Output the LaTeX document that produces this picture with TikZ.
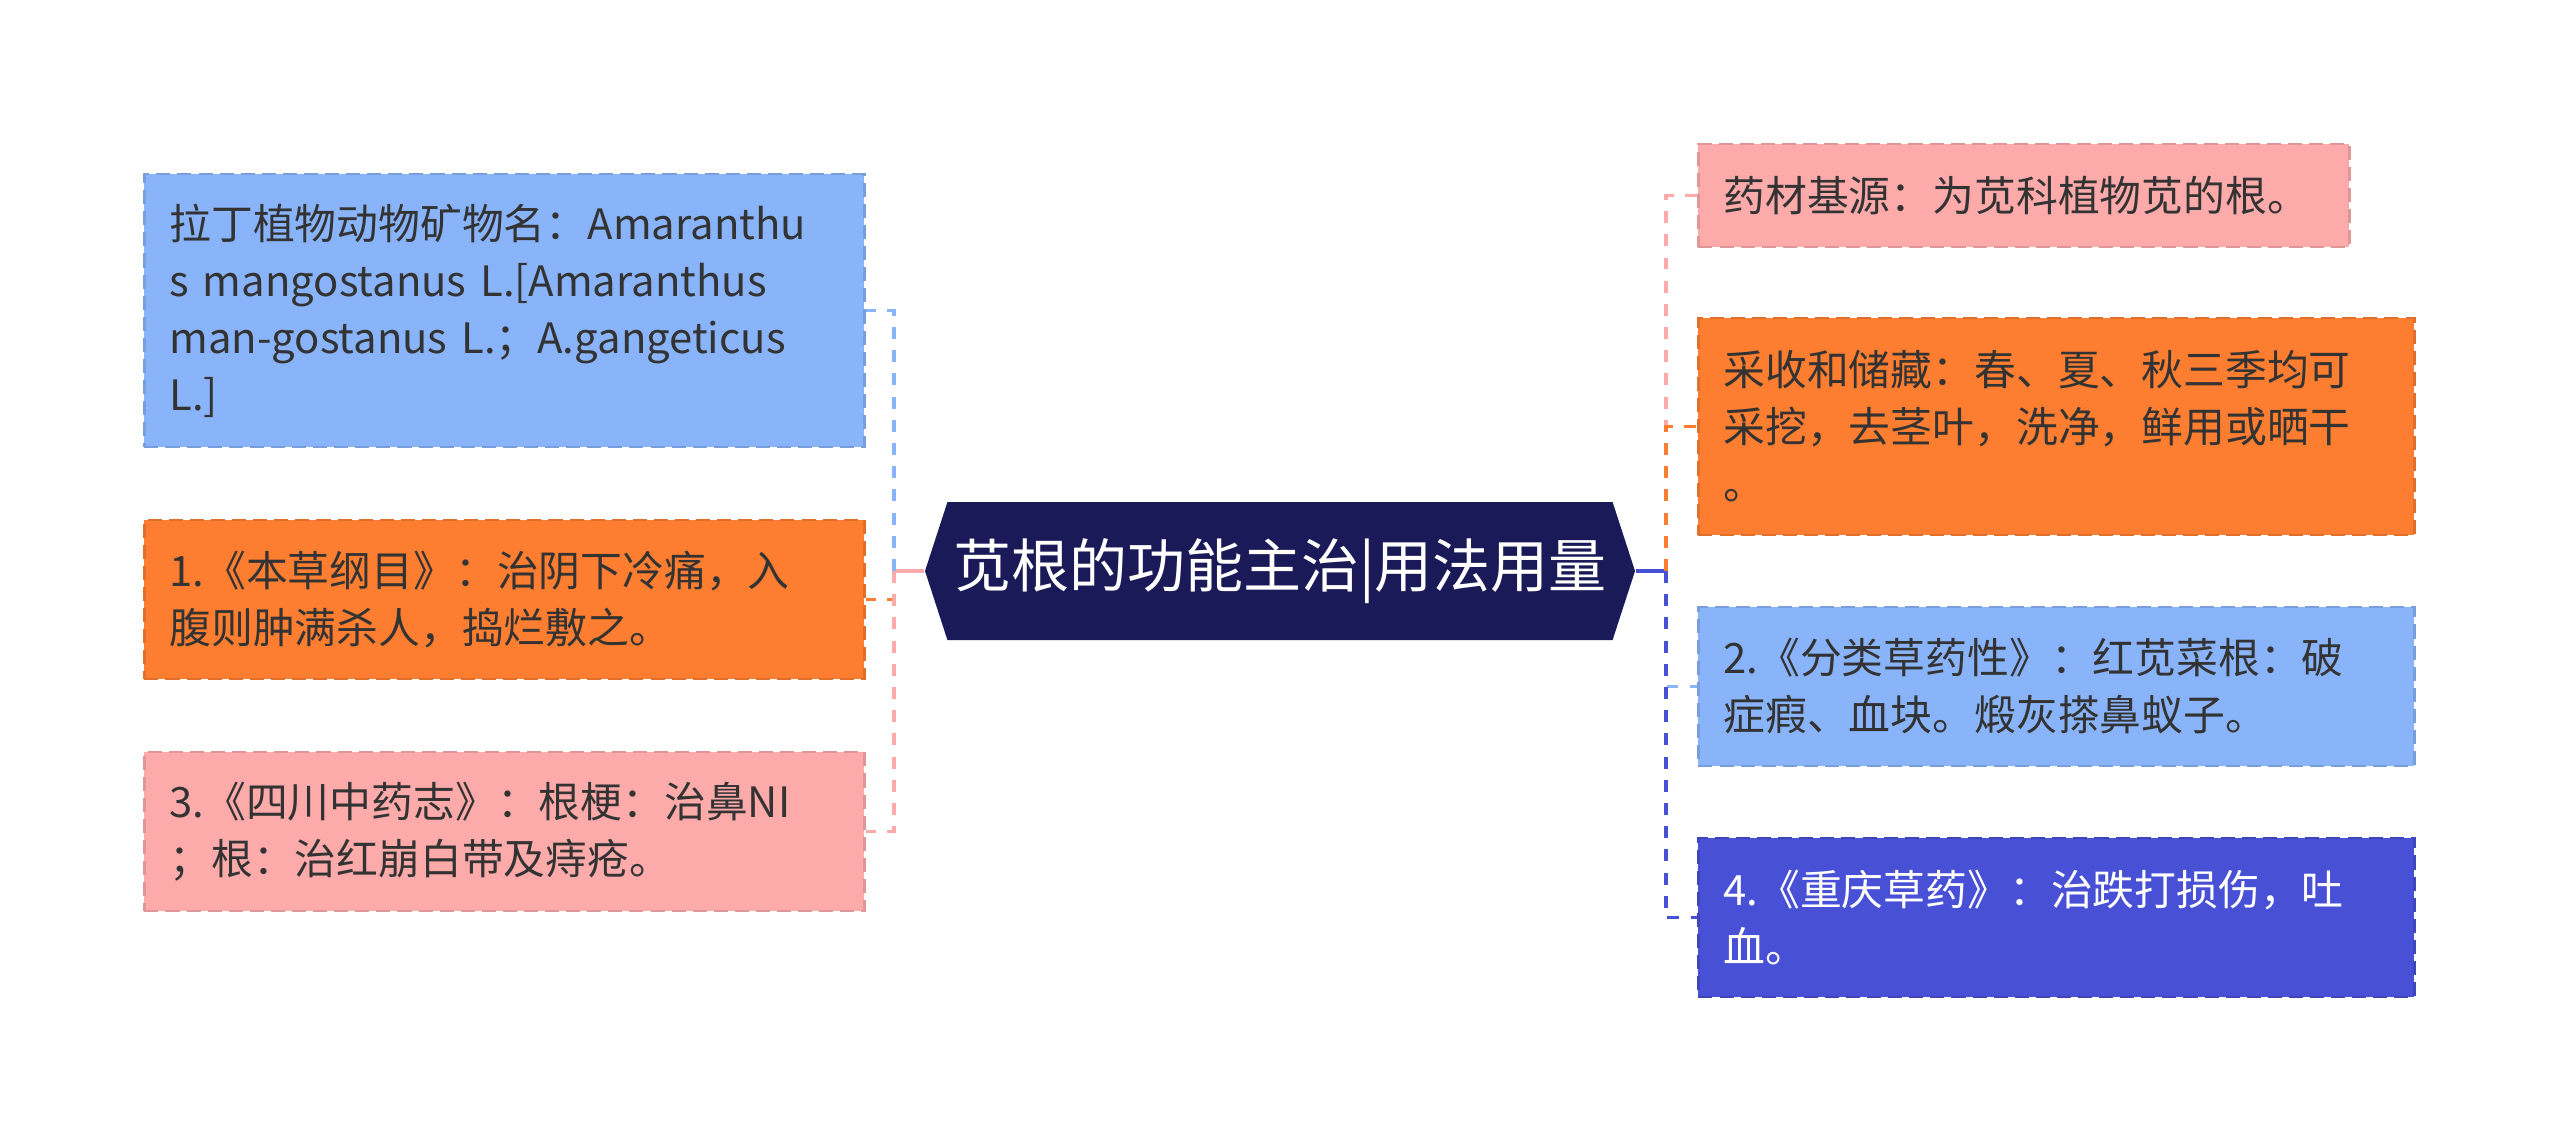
\documentclass[tikz,border=0pt]{standalone}
\usepackage{fontspec}
\newfontfamily\cjk{Noto Sans CJK SC}
\usetikzlibrary{shapes.symbols}
\definecolor{lblue}{HTML}{8AB4FA}
\definecolor{orng}{HTML}{FD7E30}
\definecolor{pnk}{HTML}{FCAAAA}
\definecolor{vblue}{HTML}{4850D5}
\definecolor{navy}{HTML}{1B1A58}
\definecolor{txt}{HTML}{333333}

\begin{document}
\begin{tikzpicture}[
  leaf/.style={rectangle,draw=#1!88!black,fill=#1,dash pattern=on 4pt off 2pt,line width=0.8pt,anchor=west,align=left,inner xsep=0.25cm,inner ysep=0cm,text width=6.7cm,text=txt,font=\cjk\fontsize{11.9pt}{16.2pt}\selectfont},
  link/.style={draw=#1,line width=1pt,dash pattern=on 3.4pt off 3.2pt},
  trunk/.style={draw=#1,line width=1.1pt}]
\useasboundingbox (0,0) rectangle (25.6,-11.42);

\node[signal,signal to=west and east,signal pointer angle=144,fill=navy,text=white,minimum width=7.1cm,minimum height=1.38cm,inner sep=0pt,font=\cjk\fontsize{16.5pt}{20pt}\selectfont] (root) at (12.8,-5.71) {苋根的功能主治|用法用量};

 \node[leaf=lblue,minimum height=2.73cm] (latin) at (1.43,-3.105) {拉丁植物动物矿物名：Amaranthu\\s mangostanus L.[Amaranthus\\man-gostanus L.；A.gangeticus\\L.]};
  \node[leaf=orng,minimum height=1.59cm] (bencao) at (1.43,-5.995) {1.《本草纲目》：治阴下冷痛，入\\腹则肿满杀人，捣烂敷之。};
    \node[leaf=pnk,minimum height=1.59cm] (sichuan) at (1.43,-8.315) {3.《四川中药志》：根梗：治鼻NI\\；根：治红崩白带及痔疮。};

 \node[leaf=pnk,minimum height=1.03cm,text width=6.01cm] (source) at (16.97,-1.955) {药材基源：为苋科植物苋的根。};
  \node[leaf=orng,minimum height=2.17cm,text width=6.66cm] (harvest) at (16.97,-4.265) {采收和储藏：春、夏、秋三季均可\\采挖，去茎叶，洗净，鲜用或晒干\\。};
   \node[leaf=lblue,minimum height=1.59cm,text width=6.66cm] (fenlei) at (16.97,-6.865) {2.《分类草药性》：红苋菜根：破\\症瘕、血块。煅灰搽鼻蚁子。};
    \node[leaf=vblue,minimum height=1.59cm,text width=6.66cm,text=white] (chongqing) at (16.97,-9.175) {4.《重庆草药》：治跌打损伤，吐\\血。};

\coordinate (lj) at (8.94,-5.71);
\coordinate (rj) at (16.66,-5.71);

  \draw[trunk=pnk] (root.west) -- (lj);
     \draw[link=lblue] (lj) |- (latin.east);
     \draw[link=orng] (lj) |- (bencao.east);
     \draw[link=pnk] (lj) |- (sichuan.east);

  \draw[trunk=vblue] (root.east) -- (rj);
     \draw[link=pnk] (rj) |- (source.west);
     \draw[link=orng] (rj) |- (harvest.west);
     \draw[link=lblue] (rj) |- (fenlei.west);
     \draw[link=vblue] (rj) |- (chongqing.west);

\end{tikzpicture}
\end{document}
